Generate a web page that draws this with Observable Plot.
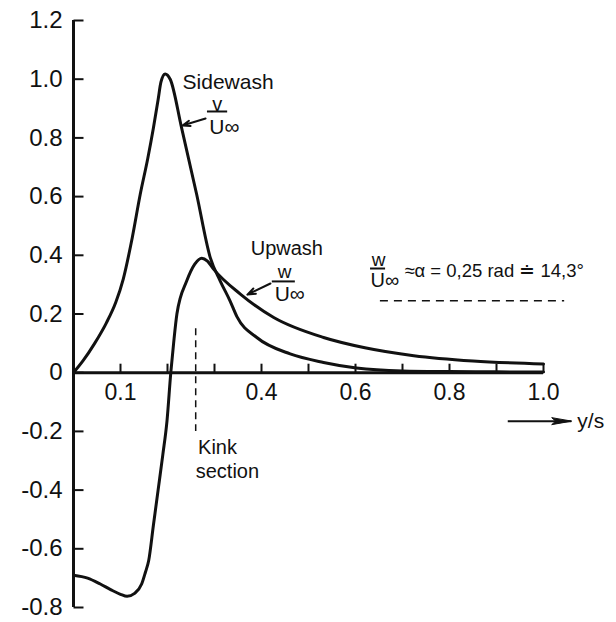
<!DOCTYPE html>
<html><head><meta charset="utf-8">
<script src="https://cdn.jsdelivr.net/npm/d3@7"></script>
<script src="https://cdn.jsdelivr.net/npm/@observablehq/plot@0.6"></script>
<style>
html,body{margin:0;padding:0;background:#fff;}
#chart svg{display:block;}
</style>
</head><body><div id="chart"></div>
<script>
// Sidewash v/U∞ along the span
const sidewashX = [0, 0.02, 0.045, 0.07, 0.09, 0.106, 0.125, 0.142, 0.158, 0.17, 0.18, 0.186, 0.195, 0.206, 0.23, 0.262, 0.291, 0.312, 0.333, 0.348, 0.39, 0.461, 0.532, 0.602, 0.70, 0.80, 0.90, 1.0];
const sidewashV = [0, 0.04, 0.1, 0.17, 0.24, 0.32, 0.46, 0.608, 0.73, 0.834, 0.93, 0.99, 1.018, 0.999, 0.834, 0.608, 0.392, 0.313, 0.245, 0.19, 0.12, 0.064, 0.035, 0.016, 0.006, 0.004, 0.003, 0.002];
// Upwash w/U∞ along the span
const upwashX = [0, 0.03, 0.057, 0.08, 0.1, 0.114, 0.13, 0.145, 0.153, 0.16, 0.17, 0.18, 0.19, 0.199, 0.207, 0.213, 0.22, 0.241, 0.258, 0.273, 0.285, 0.298, 0.355, 0.426, 0.532, 0.62, 0.724, 0.85, 1.0];
const upwashW = [-0.69, -0.70, -0.72, -0.74, -0.755, -0.762, -0.752, -0.72, -0.68, -0.64, -0.52, -0.40, -0.28, -0.163, 0, 0.1, 0.2, 0.313, 0.37, 0.39, 0.38, 0.353, 0.268, 0.188, 0.12, 0.085, 0.058, 0.04, 0.03];

const xTickValues = [0.1, 0.2, 0.3, 0.4, 0.5, 0.6, 0.7, 0.8, 0.9, 1.0];
const xTickLabels = ["0.1", "", "", "0.4", "", "0.6", "", "0.8", "", "1.0"];
const yTickValues = [1.2, 1.0, 0.8, 0.6, 0.4, 0.2, 0, -0.2, -0.4, -0.6, -0.8];
const yTickLabels = ["1.2", "1.0", "0.8", "0.6", "0.4", "0.2", "0", "-0.2", "-0.4", "-0.6", "-0.8"];

// Annotation texts (anchor points in data units)
const notesLeft = [
  {x: 0.232, y: 0.99, text: "Sidewash", size: 21},
  {x: 0.289, y: 0.835, text: "U∞", size: 21},
  {x: 0.377, y: 0.422, text: "Upwash", size: 20},
  {x: 0.428, y: 0.266, text: "U∞", size: 21},
  {x: 0.632, y: 0.314, text: "U∞", size: 20},
  {x: 0.704, y: 0.345, text: "≈α = 0,25 rad ≐ 14,3°", size: 18.5},
  {x: 0.265, y: -0.255, text: "Kink", size: 20},
  {x: 0.26, y: -0.336, text: "section", size: 20},
  {x: 1.072, y: -0.165, text: "y/s", size: 21}
];
const notesCenter = [
  {x: 0.306, y: 0.914, text: "v", size: 20},
  {x: 0.449, y: 0.343, text: "w", size: 19},
  {x: 0.649, y: 0.386, text: "w", size: 19}
];
const fractionBars = [
  {x1: 0.285, x2: 0.328, y: 0.89},
  {x1: 0.423, x2: 0.472, y: 0.311},
  {x1: 0.632, x2: 0.664, y: 0.355}
];
const leaderArrows = [
  {x1: 0.281, y1: 0.866, x2: 0.232, y2: 0.842},
  {x1: 0.419, y1: 0.304, x2: 0.370, y2: 0.266}
];
const axisArrow = [{x1: 0.925, x2: 1.06, y: -0.165}];
const alphaLine = [{x1: 0.653, x2: 1.045, y: 0.245}];
const kinkLine = [{x: 0.26, y1: 0.15, y2: -0.2}];

const sidewash = sidewashX.map((x, i) => ({x, y: sidewashV[i]}));
const upwash = upwashX.map((x, i) => ({x, y: upwashW[i]}));
const xTicks = xTickValues.map((v, i) => ({v, label: xTickLabels[i]}));
const yTicks = yTickValues.map((v, i) => ({v, label: yTickLabels[i]}));

const tickUp = {draw(ctx, size) { const l = Math.sqrt(size / Math.PI); ctx.moveTo(0, 0); ctx.lineTo(0, -l); }};
const tickRight = {draw(ctx, size) { const l = Math.sqrt(size / Math.PI); ctx.moveTo(0, 0); ctx.lineTo(l, 0); }};
const headRight = {draw(ctx, size) { const l = Math.sqrt(size / Math.PI); ctx.moveTo(0, 0); ctx.lineTo(-l, -3.5); ctx.lineTo(-l * 0.8, 0); ctx.lineTo(-l, 3.5); ctx.closePath(); }};

const ink = "#111";
const font = "Liberation Sans, Arial, sans-serif";

const chart = Plot.plot({
  width: 616,
  height: 622,
  marginLeft: 73,
  marginRight: 73,
  marginTop: 20,
  marginBottom: 15,
  x: {domain: [0, 1], axis: null},
  y: {domain: [-0.8, 1.2], axis: null},
  style: {fontFamily: font, background: "#fff", color: ink},
  marks: [
    // axes
    Plot.ruleX([0], {y1: -0.8, y2: 1.2, stroke: ink, strokeWidth: 3}),
    Plot.ruleY([0], {x1: 0, x2: 1, stroke: ink, strokeWidth: 3}),
    Plot.dot(xTicks, {x: "v", y: 0, r: 9, symbol: tickUp, stroke: ink, strokeWidth: 2, fill: "none"}),
    Plot.dot(yTicks, {x: 0, y: "v", r: 10, symbol: tickRight, stroke: ink, strokeWidth: 2, fill: "none"}),
    Plot.text(xTicks, {x: "v", y: 0, text: "label", dy: 20, fontSize: 23, fill: ink}),
    Plot.text(yTicks, {x: 0, y: "v", text: "label", dx: -11, textAnchor: "end", fontSize: 24, fill: ink}),
    // reference lines
    Plot.ruleY(alphaLine, {x1: "x1", x2: "x2", y: "y", stroke: ink, strokeWidth: 1.5, strokeDasharray: "8,6"}),
    Plot.ruleX(kinkLine, {x: "x", y1: "y1", y2: "y2", stroke: ink, strokeWidth: 1.5, strokeDasharray: "7,5"}),
    // curves
    Plot.line(sidewash, {x: "x", y: "y", curve: "monotone-x", stroke: ink, strokeWidth: 3}),
    Plot.line(upwash, {x: "x", y: "y", curve: "monotone-x", stroke: ink, strokeWidth: 3}),
    // annotations
    Plot.ruleY(fractionBars, {x1: "x1", x2: "x2", y: "y", stroke: ink, strokeWidth: 2}),
    Plot.arrow(leaderArrows, {x1: "x1", y1: "y1", x2: "x2", y2: "y2", stroke: ink, strokeWidth: 2, headLength: 8, headAngle: 40}),
    Plot.ruleY(axisArrow, {x1: "x1", x2: "x2", y: "y", stroke: ink, strokeWidth: 2}),
    Plot.dot(axisArrow, {x: "x2", y: "y", r: 20, symbol: headRight, fill: ink, stroke: ink, strokeWidth: 1}),
    Plot.text(notesLeft, {x: "x", y: "y", text: "text", textAnchor: "start", fontSize: "size", fill: ink}),
    Plot.text(notesCenter, {x: "x", y: "y", text: "text", textAnchor: "middle", fontSize: "size", fill: ink})
  ]
});
document.getElementById("chart").append(chart);
</script>
</body></html>
